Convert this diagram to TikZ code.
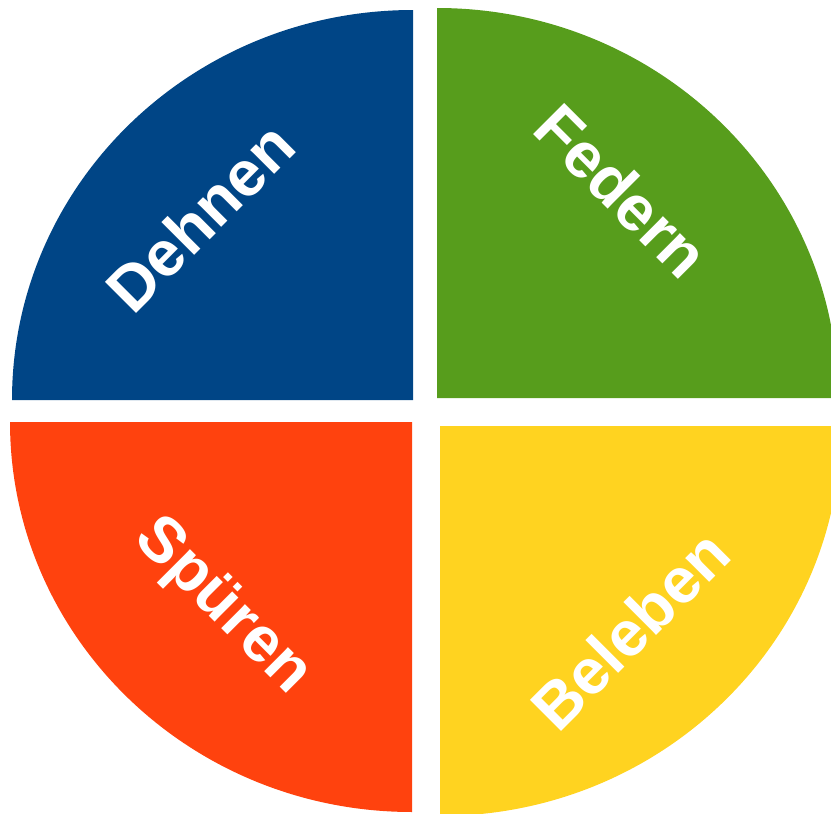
\documentclass[tikz,border=0pt]{standalone}
\usepackage{fontspec}
\setmainfont{Liberation Sans}
\usepackage{xcolor}
\usetikzlibrary{positioning}

\definecolor{dehnenblue}{HTML}{004586}
\definecolor{federngreen}{HTML}{579D1C}
\definecolor{spuerenred}{HTML}{FF420E}
\definecolor{belebenyellow}{HTML}{FFD320}

\begin{document}
\begin{tikzpicture}[x=1pt,y=-1pt]
  \tikzstyle{quarter}=[draw=none]
  \tikzstyle{word}=[text=white,inner sep=0pt,font=\fontsize{64}{76}\selectfont\bfseries]

  \clip (0,0) rectangle (831,814);

  % the four quarters
  \fill[quarter,dehnenblue] (413,400) -- (12,400)
    arc[start angle=180,end angle=270,x radius=401,y radius=390] -- cycle;
  \fill[quarter,federngreen] (437,398) -- (437,8)
    arc[start angle=270,end angle=360,x radius=401,y radius=390] -- cycle;
  \fill[quarter,spuerenred] (412,422) -- (10,422)
    arc[start angle=180,end angle=90,x radius=402,y radius=390] -- cycle;
  \fill[quarter,belebenyellow] (440,426) -- (440,816)
    arc[start angle=90,end angle=0,x radius=401,y radius=390] -- cycle;

  % labels
  \node[word,rotate=45] (dehnen) at (200,217) {Dehnen};
  \node[word,rotate=-45] (federn) at (622,191) {Federn};
  \node[word,rotate=-45] (spueren) at (222,607) {Spüren};
  \node[word,rotate=45] (beleben) at (630,630) {Beleben};
\end{tikzpicture}
\end{document}
